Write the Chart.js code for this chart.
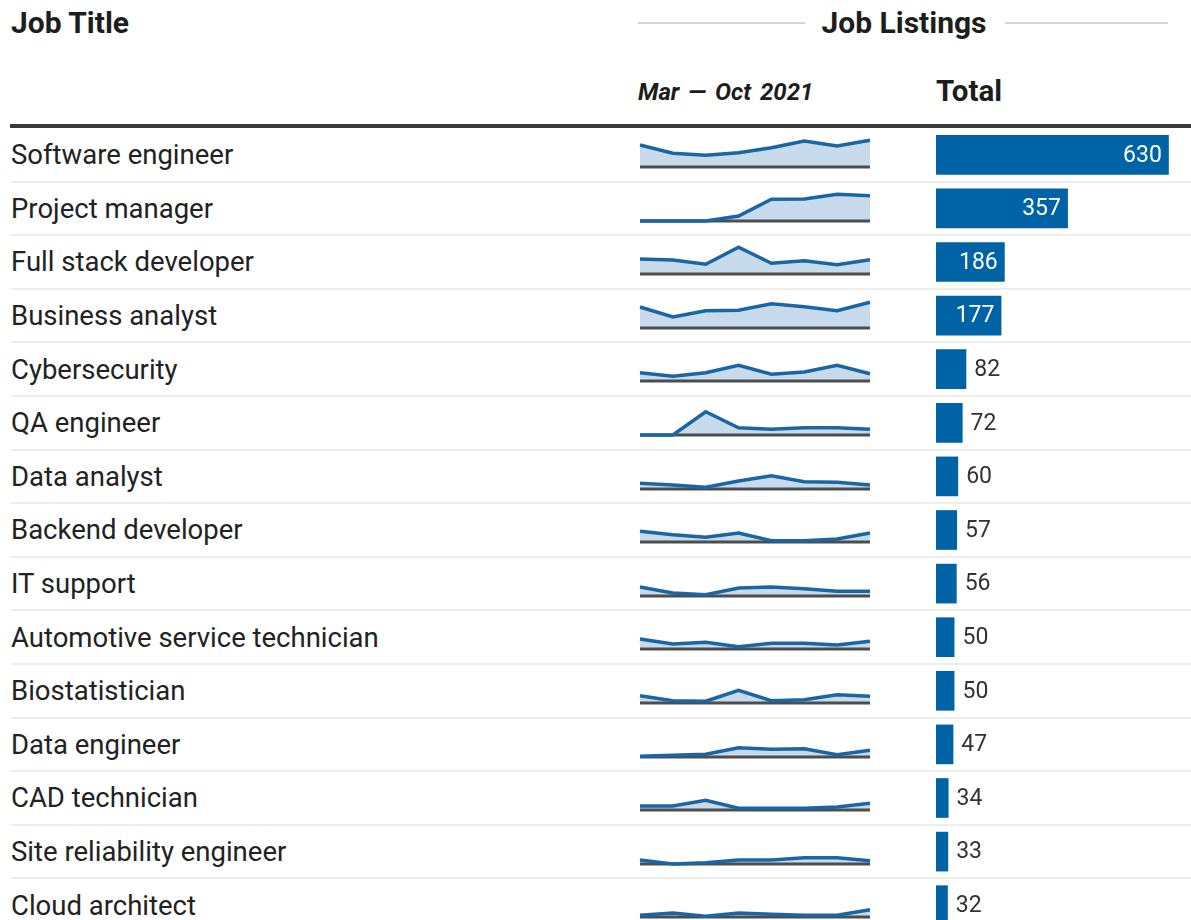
<!DOCTYPE html>
<html lang="en">
<head>
<meta charset="UTF-8">
<title>Job Listings</title>
<script src="https://cdn.jsdelivr.net/npm/chart.js@4.4.0/dist/chart.umd.min.js"></script>
<style>
  body { margin: 0; background: #fff; font-family: Roboto, "Noto Sans", sans-serif; color: #222; overflow: hidden; }
  #wrap { position: relative; width: 1191px; height: 920px; overflow: hidden; }
  .abs { position: absolute; line-height: 1; white-space: nowrap; }
  .head { font-weight: 700; color: #1d1d1d; }
  .label { position: absolute; left: 11px; font-size: 27.5px; color: #222; display: flex; align-items: center; white-space: nowrap; }
  .sep { position: absolute; left: 11px; right: 0; height: 2px; background: #ededed; }
</style>
</head>
<body>
<div id="wrap">
  <div class="abs head" style="left:11px;top:8px;font-size:30px;">Job Title</div>
  <div class="abs" style="left:638px;top:22px;width:167px;height:2px;background:#d4d4d4;"></div>
  <div class="abs head" style="left:803px;top:8px;width:202px;text-align:center;font-size:30px;">Job Listings</div>
  <div class="abs" style="left:1005px;top:22px;width:163px;height:2px;background:#d4d4d4;"></div>
  <div class="abs head" style="left:638px;top:80px;font-size:24px;font-style:italic;word-spacing:3px;">Mar — Oct 2021</div>
  <div class="abs head" style="left:936px;top:77px;font-size:29.5px;">Total</div>
  <div class="abs" style="left:10px;right:0;top:124px;height:4px;background:#3a3a3a;"></div>
  <div id="rows"></div>
  <canvas id="bars" class="abs" style="left:930px;top:128px;" width="261" height="804"></canvas>
</div>
<script>
// job titles and total listings (Mar - Oct 2021)
const jobTitles = [
  'Software engineer', 'Project manager', 'Full stack developer', 'Business analyst',
  'Cybersecurity', 'QA engineer', 'Data analyst', 'Backend developer', 'IT support',
  'Automotive service technician', 'Biostatistician', 'Data engineer', 'CAD technician',
  'Site reliability engineer', 'Cloud architect'
];
const totals = [630, 357, 186, 177, 82, 72, 60, 57, 56, 50, 50, 47, 34, 33, 32];
const months = ['Mar', 'Apr', 'May', 'Jun', 'Jul', 'Aug', 'Sep', 'Oct'];

// monthly listings
const softwareEngineer   = [88, 55, 47, 57, 77, 104, 84, 107];
const projectManager     = [0, 0, 0, 20, 87, 88, 107, 101];
const fullStackDeveloper = [60, 56, 39, 107, 43, 53, 37, 57];
const businessAnalyst    = [84, 44, 69, 71, 97, 85, 69, 103];
const cybersecurity      = [33, 19, 33, 63, 27, 36, 63, 29];
const qaEngineer         = [0, 0, 93, 29, 23, 29, 29, 23];
const dataAnalyst        = [23, 16, 7, 32, 53, 29, 27, 16];
const backendDeveloper   = [43, 29, 19, 36, 5, 5, 12, 36];
const itSupport          = [36, 12, 5, 32, 36, 29, 19, 19];
const automotiveTech     = [40, 20, 27, 9, 23, 23, 16, 31];
const biostatistician    = [29, 9, 7, 51, 9, 13, 33, 27];
const dataEngineer       = [3, 7, 11, 37, 31, 33, 9, 27];
const cadTechnician      = [16, 16, 39, 7, 7, 7, 12, 27];
const siteReliability    = [16, 0, 5, 16, 16, 25, 25, 13];
const cloudArchitect     = [7, 16, 3, 16, 11, 7, 7, 29];

const monthly = [
  softwareEngineer, projectManager, fullStackDeveloper, businessAnalyst, cybersecurity,
  qaEngineer, dataAnalyst, backendDeveloper, itSupport, automotiveTech, biostatistician,
  dataEngineer, cadTechnician, siteReliability, cloudArchitect
];

const ROW_TOP = 128, ROW_H = 53.6;
const BAR_BLUE = '#0063a6', LINE_BLUE = '#1a66a4', FILL_BLUE = '#c7dbec';

const rows = document.getElementById('rows');
jobTitles.forEach((title, i) => {
  const top = ROW_TOP + ROW_H * i;
  const lab = document.createElement('div');
  lab.className = 'label';
  lab.style.top = top + 'px';
  lab.style.height = ROW_H + 'px';
  lab.textContent = title;
  rows.appendChild(lab);

  const sep = document.createElement('div');
  sep.className = 'sep';
  sep.style.top = (top + ROW_H - 1) + 'px';
  rows.appendChild(sep);

  // sparkline for this row
  const cv = document.createElement('canvas');
  cv.className = 'abs';
  cv.width = 250; cv.height = 54;
  cv.style.left = '630px';
  cv.style.top = top + 'px';
  rows.appendChild(cv);
  const zeros = months.map(() => 0);
  new Chart(cv, {
    type: 'line',
    data: {
      labels: months,
      datasets: [
        { data: monthly[i], borderWidth: 0, backgroundColor: FILL_BLUE, fill: 'origin', pointRadius: 0, order: 3 },
        { data: zeros, borderColor: '#4d4d4d', borderWidth: 3, pointRadius: 0, fill: false, order: 2, clip: 4 },
        { data: monthly[i], borderColor: LINE_BLUE, borderWidth: 3.5, pointRadius: 0, fill: false, order: 1, clip: 4 }
      ]
    },
    options: {
      responsive: false,
      animation: false,
      events: [],
      layout: { padding: { left: 10, right: 10, top: 9, bottom: 15 } },
      plugins: { legend: { display: false }, tooltip: { enabled: false } },
      scales: {
        x: { display: false },
        y: { display: false, min: 0, max: 120 }
      }
    }
  });
});

// value labels on / beside each bar
const barLabels = {
  id: 'barLabels',
  afterDatasetsDraw(chart) {
    const ctx = chart.ctx;
    const meta = chart.getDatasetMeta(0);
    ctx.save();
    ctx.font = '23px Roboto';
    ctx.textBaseline = 'middle';
    meta.data.forEach((bar, i) => {
      const v = totals[i];
      if (v >= 150) {
        ctx.fillStyle = '#fff';
        ctx.textAlign = 'right';
        ctx.fillText(v, bar.x - 7, bar.y + 1);
      } else {
        ctx.fillStyle = '#333';
        ctx.textAlign = 'left';
        ctx.fillText(v, bar.x + 8, bar.y + 1);
      }
    });
    ctx.restore();
  }
};

new Chart(document.getElementById('bars'), {
  type: 'bar',
  data: {
    labels: jobTitles,
    datasets: [{ data: totals, backgroundColor: BAR_BLUE, categoryPercentage: 1, barPercentage: 0.74 }]
  },
  options: {
    indexAxis: 'y',
    responsive: false,
    animation: false,
    events: [],
    layout: { padding: { left: 6, right: 0, top: 0, bottom: 0 } },
    plugins: { legend: { display: false }, tooltip: { enabled: false } },
    scales: {
      x: { display: false, min: 0, max: 690 },
      y: { display: false }
    }
  },
  plugins: [barLabels]
});
</script>
</body>
</html>
